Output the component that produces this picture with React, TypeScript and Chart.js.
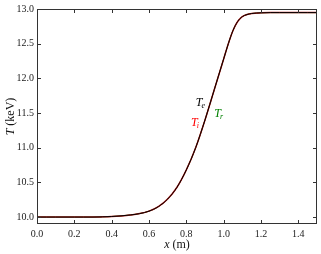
import React, { useEffect, useRef } from "react";
import { Chart, registerables } from "chart.js";

Chart.register(...registerables);

// x positions (m)
const xValues = [
  0.0, 0.05, 0.1, 0.15, 0.2, 0.25, 0.3, 0.35, 0.4, 0.45, 0.5, 0.55, 0.6, 0.65, 0.7, 0.75,
  0.8, 0.85, 0.9, 0.95, 1.0, 1.025, 1.05, 1.075, 1.1, 1.125, 1.15, 1.2, 1.25, 1.3, 1.35,
  1.4, 1.45, 1.5,
];
// electron temperature (keV)
const teValues = [
  10.0, 10.0, 10.0, 10.0, 10.0, 10.0, 10.0, 10.003, 10.008, 10.017, 10.03, 10.05, 10.085,
  10.15, 10.26, 10.43, 10.68, 11.0, 11.4, 11.84, 12.28, 12.5, 12.69, 12.82, 12.89,
  12.92, 12.935, 12.945, 12.948, 12.948, 12.948, 12.948, 12.948, 12.948,
];
// ion and radiation temperatures coincide with the electron one in the picture
const tiValues = teValues.slice();
const trValues = teValues.slice();

const xTicks = [0.0, 0.2, 0.4, 0.6, 0.8, 1.0, 1.2, 1.4];
const yTicks = [10.0, 10.5, 11.0, 11.5, 12.0, 12.5, 13.0];

const seriesLabels = ["e", "i", "r"];
const seriesColors = ["#000000", "#ff0000", "#008000"];
const labelX = [0.851, 0.825, 0.95];
const labelY = [11.6, 11.31, 11.45];

const SERIF = "'Liberation Serif', 'DejaVu Serif', serif";

const decorPlugin = {
  id: "decor",
  afterDraw(chart: any) {
    const { ctx, chartArea } = chart;
    const xs = chart.scales.x;
    const ys = chart.scales.y;
    ctx.save();
    // frame
    ctx.strokeStyle = "#333";
    ctx.lineWidth = 1;
    ctx.strokeRect(
      Math.round(chartArea.left) + 0.5,
      Math.round(chartArea.top) + 0.5,
      Math.round(chartArea.right - chartArea.left) - 1,
      Math.round(chartArea.bottom - chartArea.top) - 1
    );
    // inward ticks
    const tl = 4;
    ctx.beginPath();
    xs.ticks.forEach((t: any) => {
      const px = Math.round(xs.getPixelForValue(t.value)) + 0.5;
      ctx.moveTo(px, chartArea.bottom);
      ctx.lineTo(px, chartArea.bottom - tl);
      ctx.moveTo(px, chartArea.top);
      ctx.lineTo(px, chartArea.top + tl);
    });
    ys.ticks.forEach((t: any) => {
      const py = Math.round(ys.getPixelForValue(t.value)) + 0.5;
      ctx.moveTo(chartArea.left, py);
      ctx.lineTo(chartArea.left + tl, py);
      ctx.moveTo(chartArea.right, py);
      ctx.lineTo(chartArea.right - tl, py);
    });
    ctx.stroke();

    // series labels
    seriesLabels.forEach((s, i) => {
      const px = xs.getPixelForValue(labelX[i]);
      const py = ys.getPixelForValue(labelY[i]);
      ctx.fillStyle = seriesColors[i];
      ctx.textBaseline = "alphabetic";
      ctx.textAlign = "left";
      ctx.font = `italic 12px ${SERIF}`;
      ctx.fillText("T", px, py);
      const w = ctx.measureText("T").width;
      ctx.font = `italic 8px ${SERIF}`;
      ctx.fillText(s, px + w - 1, py + 2);
    });

    // x axis title
    ctx.fillStyle = "#111";
    ctx.textBaseline = "alphabetic";
    ctx.font = `italic 12px ${SERIF}`;
    const xPart = "x";
    const xw = ctx.measureText(xPart).width;
    ctx.font = `12px ${SERIF}`;
    const restX = " (m)";
    const rw = ctx.measureText(restX).width;
    const cx = (chartArea.left + chartArea.right) / 2;
    const sx = cx - (xw + rw) / 2;
    ctx.font = `italic 12px ${SERIF}`;
    ctx.fillText(xPart, sx, 248);
    ctx.font = `12px ${SERIF}`;
    ctx.fillText(restX, sx + xw, 248);

    // y axis title
    ctx.translate(14, (chartArea.top + chartArea.bottom) / 2);
    ctx.rotate(-Math.PI / 2);
    ctx.font = `italic 12px ${SERIF}`;
    const tw = ctx.measureText("T").width;
    ctx.font = `12px ${SERIF}`;
    const restY = " (keV)";
    const ryw = ctx.measureText(restY).width;
    const sy = -(tw + ryw) / 2;
    ctx.font = `italic 12px ${SERIF}`;
    ctx.fillText("T", sy, 0);
    ctx.font = `12px ${SERIF}`;
    ctx.fillText(restY, sy + tw, 0);
    ctx.restore();
  },
};

export default function App() {
  const ref = useRef<HTMLCanvasElement | null>(null);
  useEffect(() => {
    if (!ref.current) return;
    const mk = (vals: number[]) => xValues.map((x, i) => ({ x, y: vals[i] }));
    const chart = new Chart(ref.current, {
      type: "line",
      data: {
        datasets: [
          {
            label: "Te",
            data: mk(teValues),
            borderColor: "#000000",
            borderWidth: 1,
            pointRadius: 0,
            cubicInterpolationMode: "monotone",
          },
          {
            label: "Ti",
            data: mk(tiValues),
            borderColor: "#c02020",
            borderWidth: 1.5,
            pointRadius: 0,
            cubicInterpolationMode: "monotone",
          },
          {
            label: "Tr",
            data: mk(trValues),
            borderColor: "#2ca02c",
            borderWidth: 1,
            pointRadius: 0,
            cubicInterpolationMode: "monotone",
          },
        ],
      },
      options: {
        animation: false,
        responsive: false,
        maintainAspectRatio: false,
        layout: { padding: { left: 0, top: 9, right: 4, bottom: 0 } },
        plugins: { legend: { display: false }, tooltip: { enabled: false } },
        scales: {
          x: {
            type: "linear",
            min: 0,
            max: 1.5,
            grid: { display: false, drawTicks: false },
            border: { display: false },
            afterBuildTicks: (s: any) => {
              s.ticks = xTicks.map((v) => ({ value: v }));
            },
            afterFit: (s: any) => {
              s.height = 30;
            },
            ticks: {
              padding: 4,
              color: "#222",
              font: { family: SERIF, size: 10 },
              maxRotation: 0,
              callback: (v: any) => Number(v).toFixed(1),
            },
          },
          y: {
            type: "linear",
            min: 9.9,
            max: 13.0,
            grid: { display: false, drawTicks: false },
            border: { display: false },
            afterBuildTicks: (s: any) => {
              s.ticks = yTicks.map((v) => ({ value: v }));
            },
            afterFit: (s: any) => {
              s.width = 37;
            },
            ticks: {
              padding: 3,
              color: "#222",
              font: { family: SERIF, size: 10 },
              callback: (v: any) => Number(v).toFixed(1),
            },
          },
        },
      },
      plugins: [decorPlugin],
    } as any);
    return () => chart.destroy();
  }, []);
  return (
    <div style={{ position: "fixed", left: 0, top: 0, width: 321, height: 254, background: "#fff" }}>
      <canvas ref={ref} width={321} height={254} style={{ width: 321, height: 254 }} />
    </div>
  );
}
